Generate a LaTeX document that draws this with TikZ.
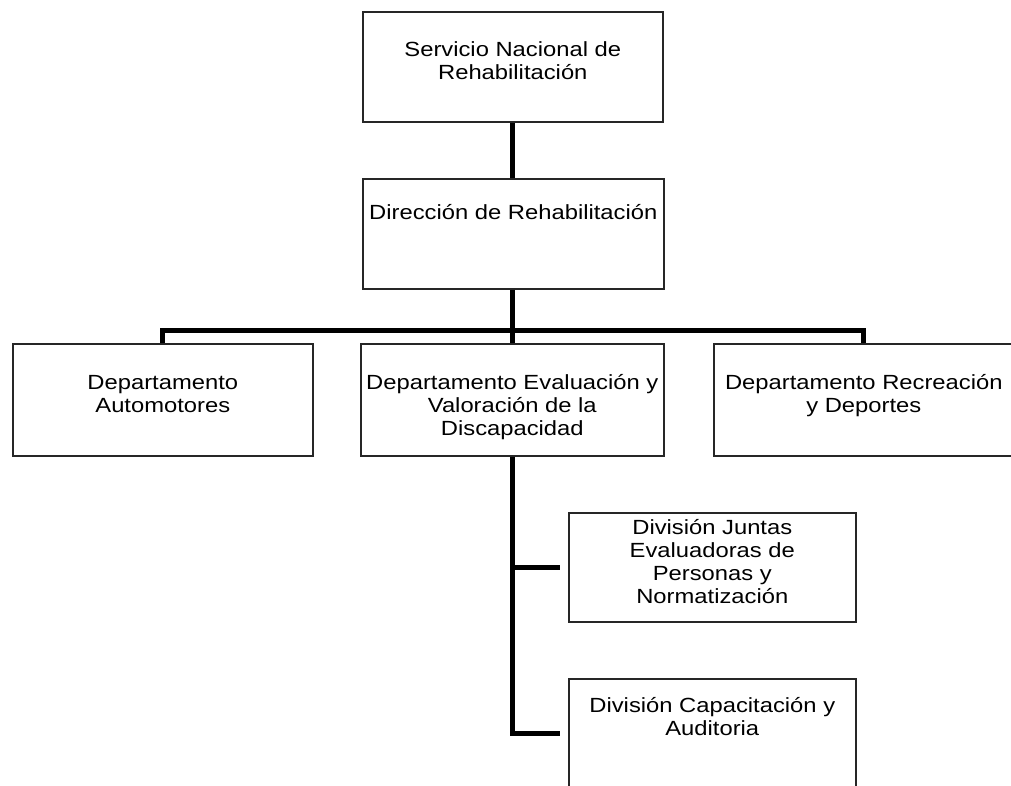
\documentclass[tikz,border=0pt]{standalone}
\usepackage{fontspec}
\setmainfont[FakeStretch=1.16]{Liberation Sans}
\begin{document}
\begin{tikzpicture}[x=1pt,y=-1pt,
  box/.style={draw=black!85, line width=1.6pt, inner sep=0pt, anchor=north west},
  txt/.style={align=center, inner sep=0pt, anchor=base, font=\fontsize{20.5}{23}\selectfont},
  conn/.style={draw=black, line width=5pt}]
\useasboundingbox (0,0) rectangle (1011,786);
% boxes
\node[box, minimum width=300pt, minimum height=110pt] (top) at (362,11) {};
\node[box, minimum width=301pt, minimum height=110pt] (dir) at (362,178) {};
\node[box, minimum width=300pt, minimum height=112pt] (auto) at (12,343) {};
\node[box, minimum width=303pt, minimum height=112pt] (eval) at (360,343) {};
\node[box, minimum width=300pt, minimum height=112pt] (rec) at (713,343) {};
\node[box, minimum width=287pt, minimum height=109pt] (div1) at (568,512) {};
\node[box, minimum width=287pt, minimum height=110pt] (div2) at (568,678) {};
% texts (anchored at the baseline of their last line)
\node[txt] (ttop) at (top.center |- 0,80) {Servicio Nacional de\\Rehabilitación};
\node[txt] (tdir) at (dir.center |- 0,220) {Dirección de Rehabilitación};
\node[txt] (tauto) at (auto.center |- 0,412) {Departamento\\Automotores};
\node[txt] (teval) at (eval.center |- 0,435) {Departamento Evaluación y\\Valoración de la\\Discapacidad};
\node[txt] (trec) at (rec.center |- 0,412) {Departamento Recreación\\y Deportes};
\node[txt] (tdiv1) at (div1.center |- 0,603) {División Juntas\\Evaluadoras de\\Personas y\\Normatización};
\node[txt] (tdiv2) at (div2.center |- 0,735) {División Capacitación y\\Auditoria};
% connectors
\coordinate (bar) at (512,330);
\draw[conn] (top.south -| bar) -- (dir.north -| bar);
\draw[conn] (dir.south -| bar) -- (bar);
\draw[conn] (auto.north) -- (auto.north |- bar) -- (rec.north |- bar) -- (rec.north);
\draw[conn] (bar) -- (eval.north -| bar);
\draw[conn] (eval.south -| bar) -- (bar |- div2.west) -- ([xshift=-8pt]div2.west);
\draw[conn] (bar |- div1.west) -- ([xshift=-8pt]div1.west);
\end{tikzpicture}
\end{document}
